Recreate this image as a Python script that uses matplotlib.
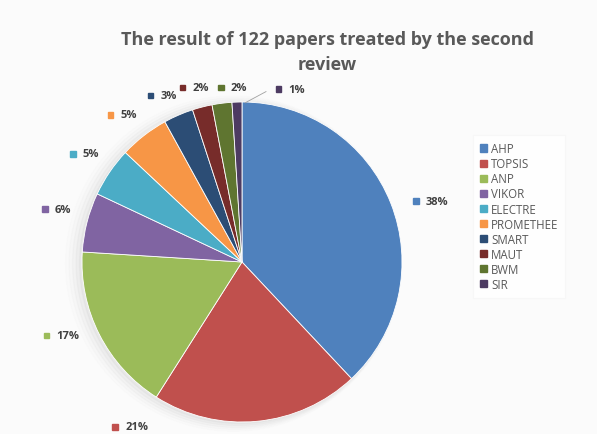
import numpy as np
import matplotlib.pyplot as plt
from matplotlib.patches import Rectangle

methods = ['AHP', 'TOPSIS', 'ANP', 'VIKOR', 'ELECTRE', 'PROMETHEE',
           'SMART', 'MAUT', 'BWM', 'SIR']
shares = [38, 21, 17, 6, 5, 5, 3, 2, 2, 1]
colors = ['#4F81BD', '#C0504D', '#9BBB59', '#8064A2', '#4BACC6',
          '#F79646', '#2C4D75', '#772C2A', '#5F7530', '#4D3B62']

# left edge of each label's colour square, in pie units (radius = 1)
label_pos = [(1.07, 0.38), (-0.81, -1.03), (-1.24, -0.46), (-1.25, 0.33),
             (-1.075, 0.675), (-0.84, 0.92), (-0.59, 1.04), (-0.39, 1.09),
             (-0.15, 1.09), (0.21, 1.08)]

plt.rcParams['font.family'] = ['Open Sans', 'DejaVu Sans']

fig = plt.figure(figsize=(5.97, 4.35), dpi=100)
fig.patch.set_facecolor('#fbfbfb')

W, H = 597, 435
cx, cy, r = 242, 263, 160
ax = fig.add_axes([(cx - r) / W, (H - cy - r) / H, 2 * r / W, 2 * r / H])

# soft shadow under the pie
for k, a in enumerate(np.linspace(0.05, 0.01, 5)):
    sh = plt.Circle((-0.015 - 0.01 * k, -0.01), 1.0 + 0.012 * k,
                    color='#888888', alpha=a, zorder=0, clip_on=False)
    ax.add_patch(sh)

wedges, _ = ax.pie(shares, colors=colors, startangle=90, counterclock=False,
                   radius=1.0, wedgeprops=dict(edgecolor='white', linewidth=0.6))
for w in wedges:
    w.set_clip_on(False)

ax.set_xlim(-1, 1)
ax.set_ylim(-1, 1)
ax.set_aspect('equal')
ax.axis('off')

sq = 0.036
for val, col, (x, y) in zip(shares, colors, label_pos):
    ax.add_patch(Rectangle((x, y - sq / 2), sq, sq, color=col, clip_on=False))
    ax.text(x + 0.08, y, f'{val}%', fontsize=8, fontweight='bold',
            color='#404040', ha='left', va='center', clip_on=False)

# leader line for the smallest slice
ax.plot([0.15, 0.02], [1.065, 0.995], color='#a0a0a0', lw=0.6, clip_on=False)

fig.text(0.548, 0.88, 'The result of 122 papers treated by the second\nreview',
         ha='center', va='center', fontsize=13, fontweight='bold',
         color='#595959', linespacing=1.5)

handles = [Rectangle((0, 0), 1, 1, color=c) for c in colors]
leg = fig.legend(handles, methods, loc='upper left',
                 bbox_to_anchor=(471 / W, 1 - 134 / H),
                 frameon=True, fontsize=8.3, handlelength=0.6, handleheight=0.6,
                 handletextpad=0.35, labelspacing=0.18, labelcolor='#595959',
                 borderpad=0.6, borderaxespad=0.2, fancybox=False)
leg.get_frame().set_edgecolor('#f6f6f6')
leg.get_frame().set_facecolor('#ffffff')
leg.get_frame().set_linewidth(0.8)

fig.savefig('out.png', dpi=100, facecolor=fig.get_facecolor())
